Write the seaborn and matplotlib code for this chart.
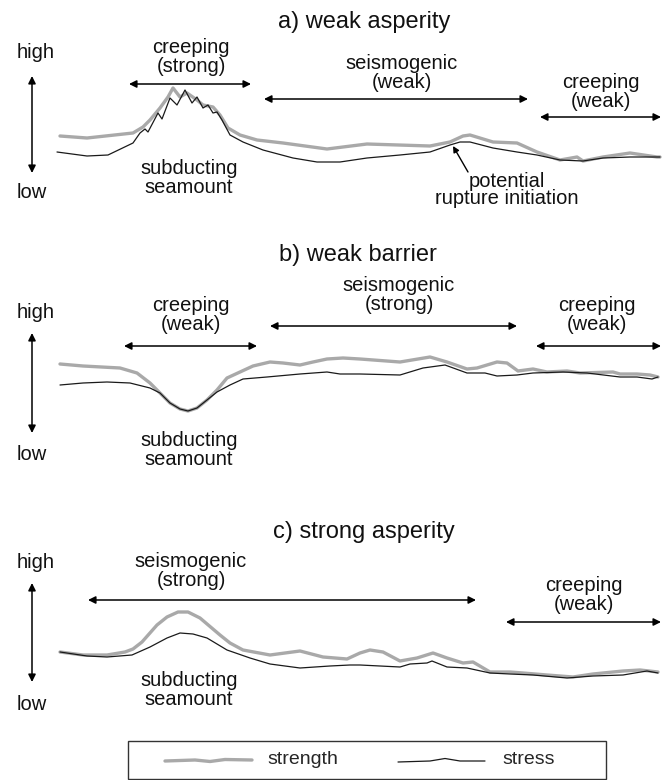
import matplotlib
matplotlib.use("Agg")
import matplotlib.pyplot as plt
import seaborn as sns
import pandas as pd
from matplotlib.patches import Rectangle

sns.set_theme(style="white")
plt.rcParams['font.family'] = ['Liberation Sans Narrow', 'Liberation Sans', 'DejaVu Sans']

# ---------------- data (along-strike position, relative level) ----------------
a_strength_x = [60, 87, 133, 143, 150, 160, 168, 173, 180, 187, 197, 203, 213, 220, 228, 240, 257, 283, 327, 367,
                430, 450, 463, 470, 493, 517, 537, 560, 577, 583, 603, 630, 657, 660]
a_strength_y = [64, 62, 67, 73, 80, 92, 103, 112, 103, 107, 100, 95, 93, 85, 72, 65, 60, 57, 51, 56,
                54, 58, 64, 65, 58, 57, 48, 40, 43, 39, 43, 47, 43, 43]
a_stress_x = [57, 87, 108, 133, 140, 145, 148, 158, 162, 170, 177, 185, 192, 197, 203, 208, 213, 217, 222, 230,
              243, 263, 293, 317, 340, 367, 400, 430, 450, 460, 470, 493, 517, 537, 560, 583, 603, 630, 657, 660]
a_stress_y = [48, 44, 45, 57, 67, 71, 68, 87, 81, 102, 95, 110, 97, 103, 92, 95, 87, 88, 80, 65,
              58, 50, 42, 38, 38, 42, 45, 48, 55, 58, 58, 52, 48, 45, 40, 39, 42, 43, 43, 43]

b_strength_x = [60, 83, 120, 137, 150, 160, 170, 180, 188, 197, 207, 217, 227, 240, 253, 270, 283, 300, 313, 327,
                343, 360, 400, 430, 447, 467, 477, 497, 507, 518, 533, 547, 567, 580, 613, 620, 637, 650, 658]
b_strength_y = [56, 54, 52, 47, 37, 27, 17, 11, 9, 12, 20, 30, 42, 48, 54, 58, 57, 55, 58, 61,
                62, 61, 58, 63, 58, 51, 52, 58, 57, 49, 51, 48, 49, 47, 48, 46, 46, 45, 43]
b_stress_x = [60, 83, 107, 130, 150, 160, 170, 180, 188, 197, 207, 217, 230, 243, 267, 300, 327, 340, 360, 400,
              423, 445, 467, 485, 497, 517, 533, 563, 587, 620, 637, 652, 658]
b_stress_y = [35, 37, 38, 37, 32, 27, 17, 11, 9, 12, 20, 28, 35, 41, 43, 46, 48, 46, 46, 45,
              52, 55, 47, 47, 44, 45, 47, 48, 47, 43, 43, 41, 43]

c_strength_x = [60, 83, 107, 125, 133, 142, 157, 167, 178, 188, 200, 220, 230, 243, 270, 300, 323, 347, 360, 370,
                383, 400, 417, 433, 447, 463, 473, 490, 503, 510, 523, 547, 573, 593, 623, 640, 658]
c_strength_y = [38, 35, 35, 38, 41, 48, 65, 73, 78, 78, 72, 55, 47, 40, 35, 39, 33, 31, 37, 40,
                38, 29, 32, 37, 32, 27, 28, 18, 18, 18, 17, 15, 13, 16, 19, 20, 18]
c_stress_x = [60, 87, 107, 132, 150, 167, 180, 193, 207, 227, 250, 270, 300, 330, 350, 360, 400, 410, 427, 432,
              447, 467, 490, 510, 533, 567, 593, 623, 647, 658]
c_stress_y = [38, 34, 33, 35, 43, 52, 57, 56, 52, 40, 32, 26, 22, 24, 25, 25, 23, 26, 27, 29,
              23, 22, 17, 16, 15, 12, 14, 15, 19, 17]

panel_titles = ["a) weak asperity", "b) weak barrier", "c) strong asperity"]
series_names = ["strength", "stress"]

# ---------------- figure ----------------
fig = plt.figure(figsize=(6.72, 7.8), dpi=100)
ax = fig.add_axes([0, 0, 1, 1])

panel_ref = [200, 420, 690]   # baseline of each panel (layout)
curves = [
    (a_strength_x, a_strength_y, a_stress_x, a_stress_y),
    (b_strength_x, b_strength_y, b_stress_x, b_stress_y),
    (c_strength_x, c_strength_y, c_stress_x, c_stress_y),
]

rows = []
for p, (sx, sy, tx, ty) in enumerate(curves):
    for xx, yy in zip(sx, sy):
        rows.append(dict(panel=p, series="strength", x=xx, y=panel_ref[p] - yy))
    for xx, yy in zip(tx, ty):
        rows.append(dict(panel=p, series="stress", x=xx, y=panel_ref[p] - yy))
df = pd.DataFrame(rows)

for p in range(3):
    sub = df[df.panel == p]
    sns.lineplot(data=sub[sub.series == "strength"], x="x", y="y", sort=False, estimator=None,
                 color="#a9a9a9", lw=2.4, ax=ax, legend=False)
    sns.lineplot(data=sub[sub.series == "stress"], x="x", y="y", sort=False, estimator=None,
                 color="#1a1a1a", lw=0.9, ax=ax, legend=False)

ax.set_xlim(0, 672)
ax.set_ylim(780, 0)
ax.axis("off")

TFS = 17
LFS = 14.5

def darrow(x0, x1, y0, y1):
    ax.annotate("", xy=(x1, y1), xytext=(x0, y0),
                arrowprops=dict(arrowstyle="<|-|>", color="black", lw=1.1,
                                mutation_scale=11, shrinkA=0, shrinkB=0))

def label(x, y, s, fs=LFS, **kw):
    ax.text(x, y, s, ha="center", va="center", fontsize=fs, color="#111111", **kw)

# titles
label(364, 22, panel_titles[0], fs=TFS)
label(358, 255, panel_titles[1], fs=TFS)
label(364, 532, panel_titles[2], fs=TFS)

# high / low axes
for hy, a0, a1, ly in [(52, 76, 173, 192), (313, 333, 433, 455), (562, 583, 682, 705)]:
    label(36, hy, "high")
    label(32, ly, "low")
    darrow(32, 32, a1, a0)

# panel a
label(191, 57, "creeping\n(strong)", linespacing=0.95)
darrow(129, 251, 84, 84)
label(402, 73, "seismogenic\n(weak)", linespacing=0.95)
darrow(264, 528, 99, 99)
label(601, 92, "creeping\n(weak)", linespacing=0.95)
darrow(540, 661, 117, 117)
label(189, 178, "subducting\nseamount", linespacing=0.95)
label(507, 190, "potential\nrupture initiation", linespacing=0.9)
ax.annotate("", xy=(453, 146), xytext=(468, 172),
            arrowprops=dict(arrowstyle="-|>", color="black", lw=1.0, mutation_scale=9,
                            shrinkA=0, shrinkB=0))

# panel b
label(191, 315, "creeping\n(weak)", linespacing=0.95)
darrow(124, 257, 346, 346)
label(399, 295, "seismogenic\n(strong)", linespacing=0.95)
darrow(270, 517, 326, 326)
label(597, 315, "creeping\n(weak)", linespacing=0.95)
darrow(536, 661, 346, 346)
label(189, 450, "subducting\nseamount", linespacing=0.95)

# panel c
label(191, 571, "seismogenic\n(strong)", linespacing=0.95)
darrow(88, 476, 600, 600)
label(584, 595, "creeping\n(weak)", linespacing=0.95)
darrow(506, 661, 622, 622)
label(189, 690, "subducting\nseamount", linespacing=0.95)

# legend box
ax.add_patch(Rectangle((128, 741), 478, 38, fill=False, edgecolor="#333333", lw=1.0))
leg_gray_x = [165, 195, 210, 225, 252]
leg_gray_y = [761, 760, 761.5, 759.5, 760]
leg_black_x = [398, 430, 445, 460, 485]
leg_black_y = [762, 761, 758.5, 761, 761]
ax.plot(leg_gray_x, leg_gray_y, color="#a9a9a9", lw=2.4)
ax.plot(leg_black_x, leg_black_y, color="#1a1a1a", lw=0.9)
ax.text(267, 760, series_names[0], ha="left", va="center", fontsize=14, family=['Liberation Sans', 'DejaVu Sans'])
ax.text(502, 760, series_names[1], ha="left", va="center", fontsize=14, family=['Liberation Sans', 'DejaVu Sans'])

fig.savefig("out.png", dpi=100)
